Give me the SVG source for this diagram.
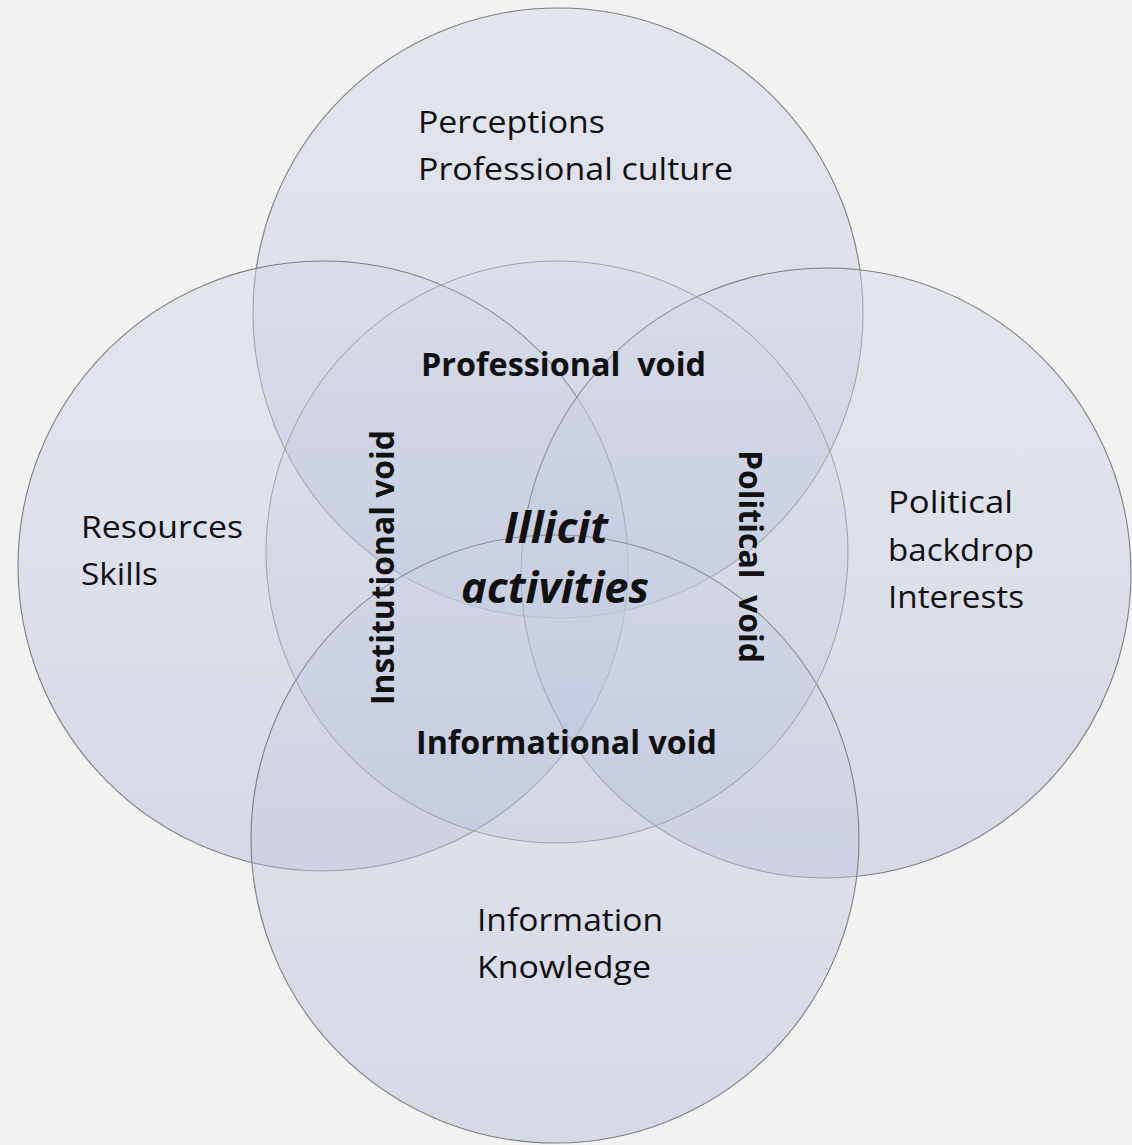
<svg xmlns="http://www.w3.org/2000/svg" width="1132" height="1145" viewBox="0 0 1132 1145">
<defs>
<linearGradient id="g" x1="0" y1="0" x2="0" y2="1">
<stop offset="0" stop-color="#d4d8e8"/>
<stop offset="1" stop-color="#b3bbd8"/>
</linearGradient>
<linearGradient id="gm" x1="0" y1="0" x2="0" y2="1">
<stop offset="0" stop-color="#d0d5e8"/>
<stop offset="1" stop-color="#adb6d5"/>
</linearGradient>
</defs>
<style>
.big{fill:url(#g);fill-opacity:0.45;stroke:#7f7f7f;stroke-width:1.1}
.mid{fill:url(#gm);fill-opacity:0.25;stroke:#9a9a9a;stroke-width:0.9}
.t{font-family:"Open Sans","Noto Sans",sans-serif;font-size:31px;fill:#111}
.b{font-family:"Open Sans","Noto Sans",sans-serif;font-size:33px;font-weight:bold;fill:#111}
.bi{font-family:"Open Sans","Noto Sans",sans-serif;font-size:43px;font-weight:bold;font-style:italic;fill:#111}
</style>
<rect width="1132" height="1145" fill="#f2f2f2"/>
<g id="circle-top">
<circle class="big" cx="558" cy="313" r="305"/>
<text class="t" x="418" y="133" textLength="187" lengthAdjust="spacingAndGlyphs">Perceptions</text>
<text class="t" x="418" y="180" textLength="315" lengthAdjust="spacingAndGlyphs">Professional culture</text>
</g>
<g id="circle-left">
<circle class="big" cx="323" cy="566" r="305"/>
<text class="t" x="81" y="538" textLength="162" lengthAdjust="spacingAndGlyphs">Resources</text>
<text class="t" x="81" y="585" textLength="77" lengthAdjust="spacingAndGlyphs">Skills</text>
</g>
<g id="circle-right">
<circle class="big" cx="826" cy="573" r="305"/>
<text class="t" x="888" y="513" textLength="125" lengthAdjust="spacingAndGlyphs">Political</text>
<text class="t" x="888" y="561" textLength="146" lengthAdjust="spacingAndGlyphs">backdrop</text>
<text class="t" x="888" y="608" textLength="136" lengthAdjust="spacingAndGlyphs">Interests</text>
</g>
<g id="circle-bottom">
<circle class="big" cx="555" cy="839" r="304"/>
<text class="t" x="477" y="931" textLength="186" lengthAdjust="spacingAndGlyphs">Information</text>
<text class="t" x="477" y="978" textLength="174" lengthAdjust="spacingAndGlyphs">Knowledge</text>
</g>
<g id="circle-center">
<circle class="mid" cx="557" cy="552" r="291"/>
<text class="b" x="421" y="376" textLength="285" lengthAdjust="spacingAndGlyphs" xml:space="preserve">Professional  void</text>
<text class="b" x="416" y="754" textLength="301" lengthAdjust="spacingAndGlyphs">Informational void</text>
<text class="b" transform="translate(394,705) rotate(-90)" x="0" y="0" textLength="275" lengthAdjust="spacingAndGlyphs">Institutional void</text>
<text class="b" transform="translate(739,450) rotate(90)" x="0" y="0" textLength="213" lengthAdjust="spacingAndGlyphs" xml:space="preserve">Political  void</text>
<text class="bi" x="504" y="543" textLength="104" lengthAdjust="spacingAndGlyphs">Illicit</text>
<text class="bi" x="461" y="603" textLength="188" lengthAdjust="spacingAndGlyphs">activities</text>
</g>
<g id="connectors"/>
</svg>
